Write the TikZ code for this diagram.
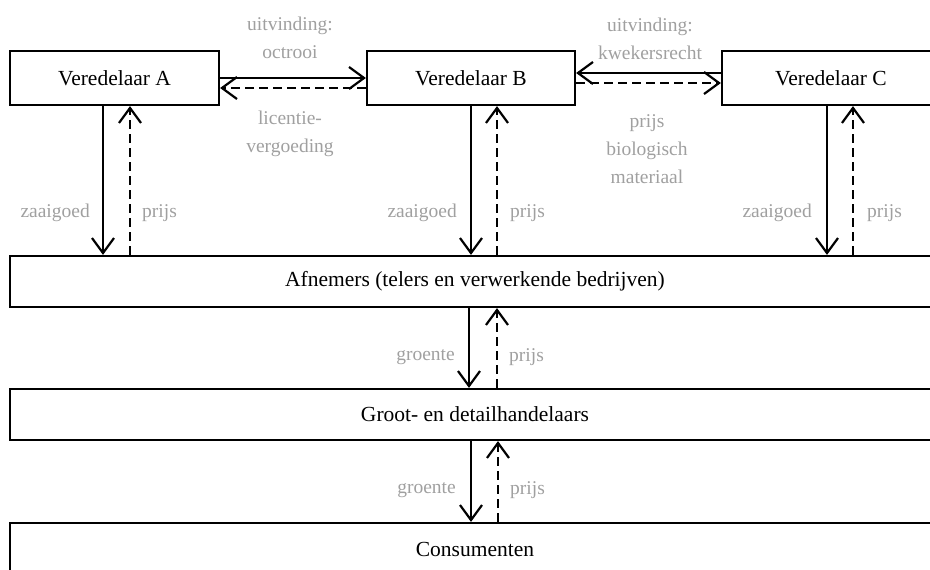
\documentclass[tikz,border=0pt]{standalone}
\usepackage{fontspec}
\setmainfont{Liberation Serif}
\usetikzlibrary{arrows.meta}
\definecolor{lblgray}{RGB}{160,160,160}
\tikzset{
  box/.style={draw, line width=2.2pt, inner sep=0pt, text=black, font=\fontsize{21.5}{28}\selectfont},
  lbl/.style={text=lblgray, align=center, inner sep=0pt},
  solidarrow/.style={line width=2.2pt, -{Straight Barb[length=15pt,width=22pt,line width=2.2pt]}},
  dasharrow/.style={line width=2.2pt, dash pattern=on 9pt off 5pt, -{Straight Barb[length=15pt,width=22pt,line width=2.2pt]}}
}
\begin{document}
\begin{tikzpicture}[x=1pt,y=-1pt,font=\fontsize{19.5}{28}\selectfont]
\clip (0,0) rectangle (930,570);
% boxes
\node[box, minimum width=209pt, minimum height=54pt] (A) at (114.5,78) {Veredelaar A};
\node[box, minimum width=208pt, minimum height=54pt] (B) at (471,78) {Veredelaar B};
\node[box, minimum width=218pt, minimum height=54pt] (C) at (831,78) {Veredelaar C};
\node[box, minimum width=930pt, minimum height=51pt] (Af) at (475,281.5) {Afnemers (telers en verwerkende bedrijven)};
\node[box, minimum width=930pt, minimum height=51pt] (Gr) at (475,414.5) {Groot- en detailhandelaars};
\node[box, minimum width=930pt, minimum height=52pt] (Co) at (475,549) {Consumenten};
% horizontal connectors
\draw[solidarrow] (A.east) -- (B.west);
\draw[dasharrow] ([yshift=-10pt]B.west) -- ([yshift=-10pt]A.east);
\draw[solidarrow] ([yshift=5pt]C.west) -- ([yshift=5pt]B.east);
\draw[dasharrow] ([yshift=-5pt]B.east) -- ([yshift=-5pt]C.west);
% vertical anchor coordinates
\coordinate (a1) at ([xshift=-11.5pt]A.south);
\coordinate (a2) at ([xshift=15.5pt]A.south);
\coordinate (b1) at (B.south);
\coordinate (b2) at ([xshift=26pt]B.south);
\coordinate (c1) at ([xshift=-4pt]C.south);
\coordinate (c2) at ([xshift=22pt]C.south);
\coordinate (f1) at ([xshift=-6pt]Af.south);
\coordinate (f2) at ([xshift=22pt]Af.south);
\coordinate (g1) at ([xshift=-4pt]Gr.south);
\coordinate (g2) at ([xshift=23pt]Gr.south);
% vertical connectors
\draw[solidarrow] (a1) -- (a1 |- Af.north);
\draw[dasharrow] (a2 |- Af.north) -- (a2);
\draw[solidarrow] (b1) -- (b1 |- Af.north);
\draw[dasharrow] (b2 |- Af.north) -- (b2);
\draw[solidarrow] (c1) -- (c1 |- Af.north);
\draw[dasharrow] (c2 |- Af.north) -- (c2);
\draw[solidarrow] (f1) -- (f1 |- Gr.north);
\draw[dasharrow] (f2 |- Gr.north) -- (f2);
\draw[solidarrow] (g1) -- (g1 |- Co.north);
\draw[dasharrow] (g2 |- Co.north) -- (g2);
% labels
\node[lbl] (l1) at (290,37.5) {uitvinding:\\octrooi};
\node[lbl] (l2) at (290,134) {licentie-\\vergoeding};
\node[lbl] (l3) at (650,38.5) {uitvinding:\\kwekersrecht};
\node[lbl] (l4) at (647,149) {prijs\\biologisch\\materiaal};
\node[lbl, anchor=east] (za) at (90,213) {zaaigoed};
\node[lbl, anchor=west] (pa) at (142,213) {prijs};
\node[lbl, anchor=east] (zb) at (457,213) {zaaigoed};
\node[lbl, anchor=west] (pb) at (510,213) {prijs};
\node[lbl, anchor=east] (zc) at (812,213) {zaaigoed};
\node[lbl, anchor=west] (pc) at (867,213) {prijs};
\node[lbl, anchor=east] (gf) at (455,357) {groente};
\node[lbl, anchor=west] (pf) at (509,357) {prijs};
\node[lbl, anchor=east] (gg) at (456,490) {groente};
\node[lbl, anchor=west] (pg) at (510,490) {prijs};
\end{tikzpicture}
\end{document}
